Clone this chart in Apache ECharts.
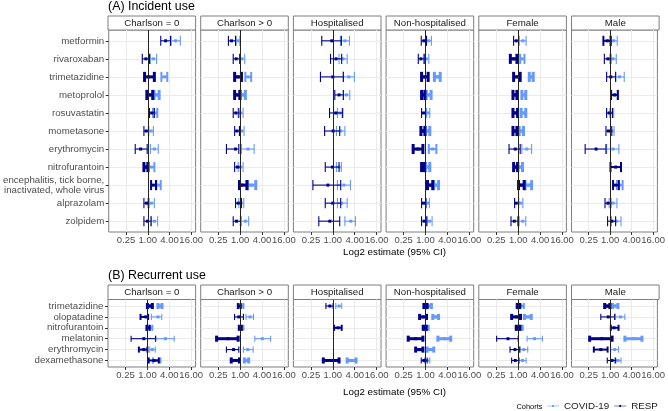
<!DOCTYPE html>
<html>
<head>
<meta charset="utf-8">
<script src="https://cdn.jsdelivr.net/npm/echarts@6/dist/echarts.min.js"></script>
<style>
  html, body { margin: 0; padding: 0; background: #fff; }
  #chart { width: 668px; height: 411px; }
</style>
</head>
<body>
<div id="chart"></div>
<script>
// facets and categories
var facets = ['Charlson = 0', 'Charlson > 0', 'Hospitalised', 'Non-hospitalised', 'Female', 'Male'];
var incidentDrugs = ['metformin', 'rivaroxaban', 'trimetazidine', 'metoprolol', 'rosuvastatin', 'mometasone',
  'erythromycin', 'nitrofurantoin', 'encephalitis, tick borne,\ninactivated, whole virus', 'alprazolam', 'zolpidem'];
var recurrentDrugs = ['trimetazidine', 'olopatadine', 'nitrofurantoin', 'melatonin', 'erythromycin', 'dexamethasone'];
var xTickValues = [-2, 0, 2, 4];   // log2 of 0.25, 1, 4, 16

// log2 estimates per facet: [lower, estimate, upper, cohort size class 1-3], null = not estimated
var incidentCovid = [
  [[2.15,2.55,2.99,1],[0.24,0.51,0.81,1],[1.25,1.52,1.79,2],[0.57,0.8,1.04,3],[0.48,0.66,0.87,2],[0.09,0.3,0.51,1],
   [0.24,0.6,0.96,1],[0.09,0.33,0.6,2],[0.78,0.96,1.19,2],[0,0.33,0.6,1],[0.3,0.6,0.9,1]],
  [[-0.36,-0.2,-0.03,1],[-0.03,0.15,0.42,1],[0.48,0.72,1.01,2],[0.03,0.24,0.48,3],[-0.18,0.03,0.27,1],[-0.06,0.15,0.36,1],
   [0.12,0.72,1.28,1],[-0.18,0.03,0.27,1],[0.63,1.01,1.43,3],[-0.12,0.09,0.33,1],[0.12,0.48,0.78,1]],
  [[0.7,1.1,1.52,1],[0.57,0.93,1.31,1],[0.96,1.46,1.97,1],[0.96,1.25,1.55,1],[0.42,0.63,0.93,1],[0.33,0.72,1.1,1],
   null,[0.33,0.57,0.78,1],[0.42,1.01,1.61,1],[0.42,0.81,1.31,1],[1.1,1.64,2.06,1]],
  [[0,0.3,0.54,1],[-0.15,0.06,0.3,1],[0.81,1.07,1.34,3],[0.06,0.3,0.51,3],[0.09,0.24,0.39,1],[0,0.18,0.39,3],
   [0.3,0.66,0.99,2],[0,0.18,0.39,3],[0.75,0.96,1.19,3],[0.06,0.21,0.36,1],[0.12,0.36,0.6,1]],
  [[0.09,0.42,0.72,1],[0.18,0.33,0.57,2],[1.01,1.19,1.37,3],[0.33,0.51,0.69,3],[0.27,0.48,0.69,3],[0.09,0.27,0.48,3],
   [0.33,0.78,1.22,1],[-0.03,0.18,0.39,3],[0.63,0.93,1.22,3],[0.03,0.21,0.42,1],[0.09,0.42,0.69,1]],
  [[-0.03,0.33,0.66,1],[-0.03,0.27,0.57,1],[0.51,0.87,1.31,1],[0.12,0.39,0.66,1],[-0.03,0.15,0.33,1],[0.03,0.18,0.36,1],
   [-0.33,0.27,0.81,1],null,[0.63,0.87,1.16,2],[-0.09,0.27,0.63,1],[0.12,0.57,1.01,1]]
];
var incidentResp = [
  [[1.19,1.64,2.09,1],[-0.51,-0.18,0.15,1],[-0.3,0.09,0.6,3],[-0.09,0.18,0.45,3],[0.15,0.36,0.6,1],[-0.36,-0.15,0.06,1],
   [-1.16,-0.66,-0.06,1],[-0.36,-0.18,0,3],[0.3,0.5,0.75,2],[-0.36,-0.12,0.09,1],[-0.36,-0.03,0.3,1]],
  [[-1.07,-0.78,-0.42,1],[-0.63,-0.36,-0.03,1],[-0.5,-0.2,0.12,3],[-0.5,-0.27,-0.03,3],[-0.63,-0.39,-0.12,1],[-0.5,-0.3,-0.06,1],
   [-1.25,-0.42,-0.12,1],[-0.5,-0.24,0.03,1],[-0.06,0.18,0.63,3],[-0.42,-0.18,0.12,1],[-0.63,-0.33,0.03,1]],
  [[-1.01,-0.09,0.78,1],[-0.21,0.3,0.81,1],[-1.13,0,0.96,1],[0.18,0.57,0.96,1],[-0.3,0.27,0.87,1],[-0.75,0.03,0.63,1],
   null,[-0.69,-0.03,0.57,1],[-1.82,-0.45,0.72,1],[-0.69,0,0.72,1],[-1.28,-0.27,0.63,1]],
  [[-0.39,-0.15,0.09,1],[-0.66,-0.42,-0.12,1],[-0.36,-0.09,0.24,3],[-0.36,-0.21,-0.06,3],[-0.36,-0.18,0,1],[-0.42,-0.24,-0.06,3],
   [-1.13,-0.69,-0.24,3],[-0.36,-0.24,-0.09,3],[0.18,0.42,0.66,3],[-0.36,-0.18,0.03,1],[-0.36,-0.12,0.12,1]],
  [[-0.42,-0.18,0.03,1],[-0.72,-0.42,-0.12,3],[-0.42,-0.12,0.18,3],[-0.48,-0.3,-0.12,3],[-0.48,-0.27,-0.06,3],[-0.48,-0.3,-0.12,3],
   [-0.84,-0.27,0.18,1],[-0.42,-0.24,-0.06,3],[0.03,0.27,0.54,3],[-0.33,-0.18,0.03,1],[-0.66,-0.36,-0.03,1]],
  [[-0.63,-0.27,0.06,2],[-0.54,-0.21,0.06,1],[-0.33,0.06,0.51,1],[0.09,0.42,0.72,2],[-0.33,-0.09,0.21,1],[-0.39,-0.15,0.15,1],
   [-2.33,-1.31,-0.39,1],[0.03,0.51,1.01,2],[0.27,0.51,0.81,2],[-0.48,-0.21,0.06,1],[-0.24,0.15,0.51,1]]
];
var recurrentCovid = [
  [[0.96,1.13,1.34,3],[0.36,0.96,1.31,1],[0.06,0.27,0.45,2],[0.75,1.64,2.45,1],[0.21,0.45,0.72,1],[0.51,0.87,1.19,2]],
  [[-0.06,0.12,0.3,2],[0.54,0.9,1.22,1],[0,0.15,0.3,2],[1.34,2.03,2.78,1],[0.3,0.69,1.19,1],[0.39,0.54,0.78,3]],
  [[0.27,0.57,0.81,1],null,null,null,null,[1.31,1.7,2.12,3]],
  [[0.09,0.3,0.54,3],[0.66,0.93,1.19,3],[-0.06,0.09,0.24,3],[1.13,1.7,2.3,3],[0.15,0.45,0.75,3],[-0.09,0.15,0.39,1]],
  [[0,0.27,0.51,2],[0.57,0.87,1.19,3],[0,0.18,0.36,3],[0.81,1.49,2.21,1],[0.12,0.51,0.87,1],[0.06,0.39,0.72,1]],
  [[0.21,0.45,0.72,3],[0.48,0.96,1.37,1],null,[1.37,2.21,2.96,3],[0.06,0.42,0.78,1],[0.42,0.72,1.01,1]]
];
var recurrentResp = [
  [[0,0.21,0.45,3],[-0.63,-0.15,0.06,2],[-0.09,0.06,0.21,2],[-1.49,-0.33,0.75,1],[-0.78,-0.33,0,2],[0.12,0.6,1.04,2]],
  [[-0.21,-0.09,0.06,2],[-0.51,-0.12,0.3,1],[-0.12,0,0.15,2],[-2.15,-1.1,-0.18,3],[-1.25,-0.6,-0.12,1],[-0.81,-0.45,-0.06,3]],
  [[-0.63,-0.27,0.03,1],null,[0.12,0.48,0.81,2],null,null,[-0.87,-0.12,0.57,3]],
  [[-0.15,0,0.15,3],[-0.54,-0.21,0.09,3],[-0.21,-0.09,0.06,3],[-1.58,-0.9,-0.24,3],[-0.9,-0.57,-0.24,3],[-0.39,-0.15,0.15,1]],
  [[-0.09,0.03,0.15,3],[-0.6,-0.18,0.21,3],[-0.18,-0.03,0.15,3],[-1.97,-0.93,0,1],[-0.75,-0.3,0.15,1],[-0.6,-0.27,0.06,1]],
  [[-0.51,-0.27,-0.03,3],[-0.87,-0.18,0.42,1],[0.06,0.36,0.78,2],[-1.91,-0.78,0.18,3],[-1.52,-0.87,-0.24,2],[-0.27,0.18,0.51,1]]
];

var COVID_COL = '#6699FF';
var RESP_COL = '#00008B';
var FONT = 'Liberation Sans, Arial, sans-serif';

var chart = echarts.init(document.getElementById('chart'));

// layout of the two blocks
var sections = [
  { title: '(A) Incident use', titleY: 6.5, stripTop: 16, top: 30, bottom: 232, axisTitleY: 252,
    drugs: incidentDrugs, covid: incidentCovid, resp: incidentResp },
  { title: '(B) Recurrent use', titleY: 276, stripTop: 285, top: 299.5, bottom: 367, axisTitleY: 392,
    drugs: recurrentDrugs, covid: recurrentCovid, resp: recurrentResp }
];
var panelLeft = 108, panelW = 87.6, panelStep = 92.7;

var lineWidths = [0, 1.1, 2, 3];

function renderBar(params, api) {
  var row = api.value(3);
  var lo = api.coord([api.value(0), row]);
  var est = api.coord([api.value(1), row]);
  var hi = api.coord([api.value(2), row]);
  var cap = api.size([0, 1])[1] * 0.28;
  var color = api.visual('color');
  var st = { stroke: color, lineWidth: lineWidths[api.value(4)], fill: null };
  return {
    type: 'group',
    children: [
      { type: 'line', shape: { x1: lo[0], y1: lo[1], x2: hi[0], y2: hi[1] }, style: st },
      { type: 'line', shape: { x1: lo[0], y1: lo[1] - cap, x2: lo[0], y2: lo[1] + cap }, style: st },
      { type: 'line', shape: { x1: hi[0], y1: hi[1] - cap, x2: hi[0], y2: hi[1] + cap }, style: st },
      { type: 'rect', shape: { x: est[0] - 1.5, y: est[1] - 1.5, width: 3, height: 3 }, style: { fill: color } }
    ]
  };
}

function toRows(arr) {
  var out = [];
  arr.forEach(function (r, i) {
    if (r) out.push([r[0], r[1], r[2], i, r[3]]);
  });
  return out;
}

var grids = [], xAxes = [], yAxes = [], series = [], graphics = [];
var idx = 0;

sections.forEach(function (sec) {
  var n = sec.drugs.length;
  var rowIdx = sec.drugs.map(function (d, i) { return i; });

  graphics.push({
    type: 'text', x: panelLeft, y: sec.titleY,
    style: { text: sec.title, font: '12.4px ' + FONT, fill: '#000', textVerticalAlign: 'middle' }
  });
  graphics.push({
    type: 'text', x: 394.5, y: sec.axisTitleY,
    style: { text: 'Log2 estimate (95% CI)', font: '9.8px ' + FONT, fill: '#000',
      textAlign: 'center', textVerticalAlign: 'middle' }
  });

  facets.forEach(function (f, k) {
    var left = panelLeft + k * panelStep;
    grids.push({
      left: left, top: sec.top, width: panelW, height: sec.bottom - sec.top,
      show: true, borderColor: '#7f7f7f', borderWidth: 1, backgroundColor: '#fff'
    });
    // strip
    graphics.push({
      type: 'rect', shape: { x: left, y: sec.stripTop, width: panelW, height: sec.top - sec.stripTop },
      style: { fill: '#fff', stroke: '#7f7f7f', lineWidth: 1 }
    });
    graphics.push({
      type: 'text', x: left + panelW / 2, y: (sec.stripTop + sec.top) / 2 + 0.5,
      style: { text: f, font: '9.7px ' + FONT, fill: '#1a1a1a', textAlign: 'center', textVerticalAlign: 'middle' }
    });

    xAxes.push({
      gridIndex: idx, type: 'value', position: 'bottom', min: -3.6, max: 4.4, minInterval: 1, maxInterval: 1,
      axisLine: { show: false, onZero: false },
      axisTick: { show: true, customValues: xTickValues, length: 3, lineStyle: { color: '#333' } },
      axisLabel: {
        customValues: xTickValues, margin: 3, fontSize: 9.5, color: '#4d4d4d', fontFamily: FONT,
        hideOverlap: false,
        formatter: function (v) { return Math.pow(2, v).toFixed(2); }
      },
      splitLine: { show: true, lineStyle: { color: '#ebebeb', width: 1 } }
    });
    yAxes.push({
      gridIndex: idx, type: 'value', position: 'left', inverse: true, min: -0.6, max: n - 0.4,
      minInterval: 1, maxInterval: 1,
      axisLine: { show: false, onZero: false },
      axisTick: { show: k === 0, customValues: rowIdx, length: 3, lineStyle: { color: '#333' } },
      axisLabel: {
        show: k === 0, customValues: rowIdx, margin: 4.5, fontSize: 9.7, lineHeight: 10.5,
        color: '#4d4d4d', fontFamily: FONT,
        formatter: function (v) { return sec.drugs[v]; }
      },
      splitLine: { show: true, lineStyle: { color: '#ebebeb', width: 1 } }
    });

    series.push({
      type: 'custom', name: 'COVID-19', xAxisIndex: idx, yAxisIndex: idx,
      renderItem: renderBar, encode: { x: [0, 1, 2], y: 3 },
      itemStyle: { color: COVID_COL }, data: toRows(sec.covid[k]),
      markLine: {
        silent: true, symbol: 'none', label: { show: false },
        lineStyle: { color: '#222', width: 1, type: 'solid' },
        data: [{ xAxis: 0 }]
      }
    });
    series.push({
      type: 'custom', name: 'RESP', xAxisIndex: idx, yAxisIndex: idx,
      renderItem: renderBar, encode: { x: [0, 1, 2], y: 3 },
      itemStyle: { color: RESP_COL }, data: toRows(sec.resp[k])
    });
    idx++;
  });
});

graphics.push({
  type: 'text', x: 516.5, y: 407,
  style: { text: 'Cohorts', font: '7.4px ' + FONT, fill: '#000', textVerticalAlign: 'middle' }
});

var option = {
  animation: false,
  textStyle: { fontFamily: FONT },
  legend: {
    data: ['COVID-19', 'RESP'],
    left: 547, top: 401, padding: 0,
    itemWidth: 12, itemHeight: 3, itemGap: 5,
    icon: 'path://M0,4.4H20V5.6H0Z M8.5,3.5H11.5V6.5H8.5Z',
    textStyle: { fontSize: 9.8, color: '#1a1a1a' }
  },
  grid: grids,
  xAxis: xAxes,
  yAxis: yAxes,
  series: series,
  graphic: graphics
};

chart.setOption(option);
</script>
</body>
</html>
